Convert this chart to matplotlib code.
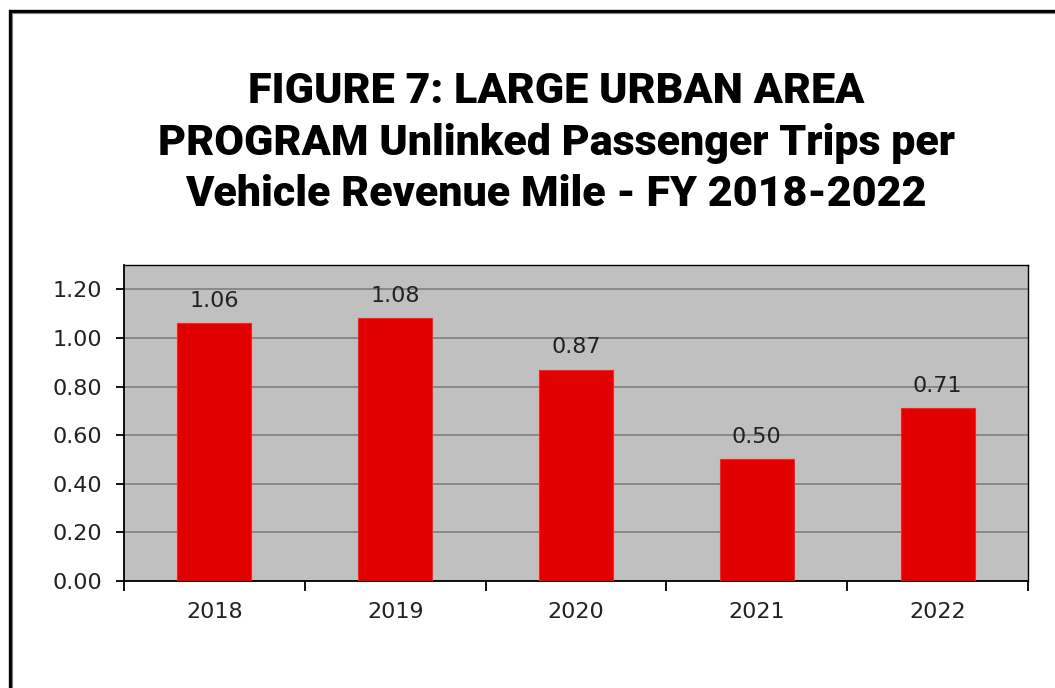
import matplotlib.pyplot as plt
from matplotlib.patches import Rectangle

years = ["2018", "2019", "2020", "2021", "2022"]
trips_per_mile = [1.06, 1.08, 0.87, 0.50, 0.71]
labels = ["1.06", "1.08", "0.87", "0.50", "0.71"]

fig = plt.figure(figsize=(10.55, 6.88), dpi=100)
fig.patch.set_facecolor("white")

# frame round the chart (only left and top show in the crop)
fig.patches.append(Rectangle((9.5 / 1055, -0.1), 1.2, 1 - 11.5 / 688 + 0.1,
                             transform=fig.transFigure, fill=False,
                             edgecolor="black", linewidth=2.4))
fig.add_artist(plt.Line2D([11.5 / 1055, 1.0], [1 - 13 / 688, 1 - 13 / 688],
                          transform=fig.transFigure, color="#808080", lw=0.8))
fig.add_artist(plt.Line2D([11.5 / 1055, 11.5 / 1055], [0, 1 - 13 / 688],
                          transform=fig.transFigure, color="#808080", lw=0.8))

ax = fig.add_axes([124 / 1055, 1 - 581 / 688, 904 / 1055, 316 / 688])
ax.set_facecolor("#c0c0c0")

x = range(len(years))
ax.bar(x, trips_per_mile, width=0.41, color="#e00000", edgecolor="#ff2020",
       linewidth=0.8, zorder=3)
for i, v in enumerate(trips_per_mile):
    ax.annotate(labels[i], (i, v), xytext=(0, 9), textcoords="offset points",
                ha="center", va="bottom", fontsize=16, color="#222222",
                family="DejaVu Sans")

ax.set_xlim(-0.5, len(years) - 0.5)
ax.set_ylim(0, 1.3)
ax.set_yticks([0, 0.2, 0.4, 0.6, 0.8, 1.0, 1.2])
ax.set_yticklabels(["0.00", "0.20", "0.40", "0.60", "0.80", "1.00", "1.20"])
ax.yaxis.grid(True, color="#808080", linewidth=1.2, zorder=1)
ax.set_axisbelow(True)

ax.set_xticks(list(x))
ax.set_xticklabels(years)
ax.set_xticks([i - 0.5 for i in range(len(years) + 1)], minor=True)
ax.tick_params(axis="x", which="major", length=0, pad=15)
ax.tick_params(axis="x", which="minor", length=7, width=1.3, direction="out")
ax.tick_params(axis="y", length=6, width=1.3, pad=10)
for lab in ax.get_xticklabels() + ax.get_yticklabels():
    lab.set_fontsize(16)
    lab.set_color("#222222")
    lab.set_family("DejaVu Sans")

for side in ["left", "bottom", "top", "right"]:
    ax.spines[side].set_color("black")
    ax.spines[side].set_linewidth(1.3)
ax.spines["top"].set_linewidth(1.0)
ax.spines["right"].set_linewidth(1.0)

fig.text(556 / 1055, 1 - 143 / 688,
         "FIGURE 7: LARGE URBAN AREA\nPROGRAM Unlinked Passenger Trips per\nVehicle Revenue Mile - FY 2018-2022",
         ha="center", va="center", fontsize=31, fontweight="black",
         family="Roboto", linespacing=1.34)

fig.savefig("out.png", dpi=100)
